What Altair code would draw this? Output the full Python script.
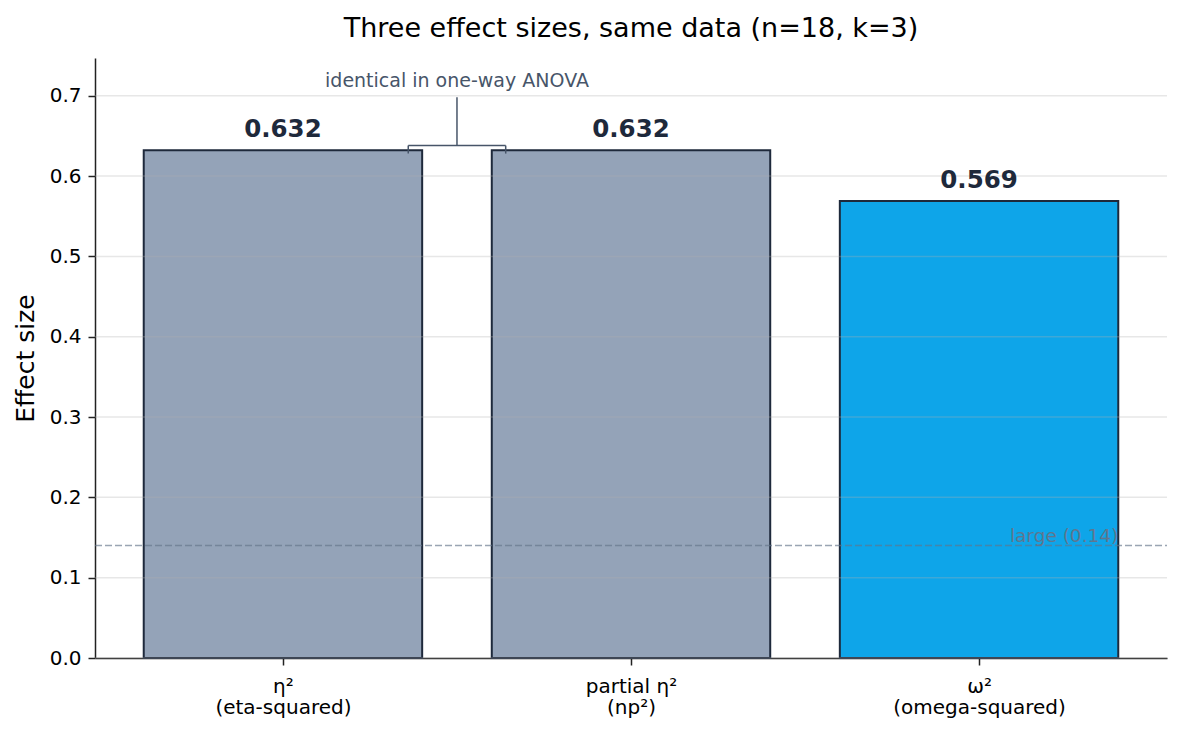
import altair as alt
import pandas as pd

# ---- data ----
categories = ["η²", "partial η²", "ω²"]
subtitles = ["(eta-squared)", "(np²)", "(omega-squared)"]
values = [0.632, 0.632, 0.569]
colors = ["#94a3b8", "#94a3b8", "#0ea5e9"]
y_ticks = [0.0, 0.1, 0.2, 0.3, 0.4, 0.5, 0.6, 0.7]
threshold = 0.14
threshold_label = "large (0.14)"
note = "identical in one-way ANOVA"
title = "Three effect sizes, same data (n=18, k=3)"

FONT = "DejaVu Sans"
W, H = 1072, 600
BAR_HALF = 0.4

df = pd.DataFrame({
    "pos": list(range(len(categories))),
    "cat": categories,
    "value": values,
    "color": colors,
})
df["x0"] = df["pos"] - BAR_HALF
df["x1"] = df["pos"] + BAR_HALF
df["base"] = 0.0
df["label"] = [f"{v:.3f}" for v in values]

xscale = alt.Scale(domain=[-0.54, 2.54], nice=False, zero=False)
yscale = alt.Scale(domain=[0, 0.747], nice=False, zero=False)

label_expr = "[" + ",".join(f"['{c}','{s}']" for c, s in zip(categories, subtitles)) + "][datum.value]"

x_axis = alt.Axis(
    values=list(range(len(categories))), labelExpr=label_expr, title=None, grid=False,
    domainColor="#222222", domainWidth=1.5, tickColor="#222222", tickWidth=1.5,
    tickSize=7, labelPadding=11, labelFontSize=20, labelLineHeight=21,
    labelColor="black", labelFont=FONT, labelOverlap=False, labelFlush=False,
    labelBaseline="top",
)
y_axis = alt.Axis(
    values=y_ticks, format=".1f", title="Effect size", grid=False,
    domainColor="#222222", domainWidth=1.5, tickColor="#222222", tickWidth=1.5,
    tickSize=7, labelPadding=7, labelFontSize=20, labelColor="black", labelFont=FONT,
    titleFont=FONT, titleFontSize=25, titleFontWeight="normal", titleColor="black",
    titleX=-70, titleY=H / 2, titleAngle=270, titleAlign="center", titleBaseline="middle",
)

bars = alt.Chart(df).mark_bar(stroke="#1e293b", strokeWidth=2).encode(
    x=alt.X("x0:Q", scale=xscale, axis=x_axis),
    x2="x1:Q",
    y=alt.Y("value:Q", scale=yscale, axis=y_axis),
    y2="base:Q",
    fill=alt.Fill("color:N", scale=None),
)

grid = alt.Chart(pd.DataFrame({"t": y_ticks})).mark_rule(
    color="#b0b0b0", opacity=0.3, strokeWidth=1.5
).encode(y=alt.Y("t:Q", scale=yscale), x=alt.value(0), x2=alt.value(W))

dashed = alt.Chart(pd.DataFrame({"t": [threshold]})).mark_rule(
    color="#64748b", opacity=0.65, strokeWidth=1.4, strokeDash=[7, 3]
).encode(y=alt.Y("t:Q", scale=yscale), x=alt.value(0), x2=alt.value(W))

value_text = alt.Chart(df).mark_text(
    font=FONT, fontSize=24.5, fontWeight="bold", color="#1e293b",
    baseline="alphabetic", dy=-13,
).encode(x=alt.X("pos:Q", scale=xscale), y=alt.Y("value:Q", scale=yscale), text="label:N")

thr_text = alt.Chart(pd.DataFrame({
    "x": [len(categories) - 1 + BAR_HALF], "y": [threshold], "t": [threshold_label]
})).mark_text(
    font=FONT, fontSize=18.5, color="#64748b", opacity=0.95, align="right",
    baseline="alphabetic", dy=-4,
).encode(x=alt.X("x:Q", scale=xscale), y=alt.Y("y:Q", scale=yscale), text="t:N")

seg = pd.DataFrame({
    "x": [0.36, 0.36, 0.64, 0.5],
    "x2": [0.64, 0.36, 0.64, 0.5],
    "y": [0.638, 0.638, 0.638, 0.638],
    "y2": [0.638, 0.628, 0.628, 0.698],
})
bracket = alt.Chart(seg).mark_rule(color="#475569", strokeWidth=1.5).encode(
    x=alt.X("x:Q", scale=xscale), x2="x2:Q",
    y=alt.Y("y:Q", scale=yscale), y2="y2:Q",
)

note_text = alt.Chart(pd.DataFrame({"x": [0.5], "y": [0.711], "t": [note]})).mark_text(
    font=FONT, fontSize=19, color="#475569", baseline="alphabetic", align="center",
).encode(x=alt.X("x:Q", scale=xscale), y=alt.Y("y:Q", scale=yscale), text="t:N")

chart = alt.layer(bars, grid, dashed, value_text, thr_text, bracket, note_text).properties(
    width=W, height=H,
    title=alt.TitleParams(title, font=FONT, fontSize=27, fontWeight="normal", color="black",
                          anchor="middle", frame="group", baseline="alphabetic", offset=22, dy=28),
    padding={"left": 87, "top": 50, "right": 7, "bottom": 65},
    autosize=alt.AutoSizeParams(type="none"),
).configure_view(stroke=None)

chart.save("out.html", embed_options={"renderer": "svg", "actions": False})
